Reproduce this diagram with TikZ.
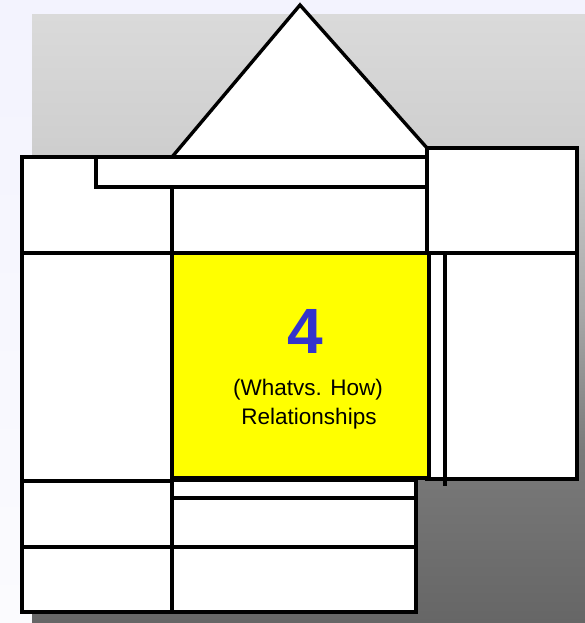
\documentclass[tikz,border=0pt]{standalone}
\usepackage{fontspec}
\setmainfont{Liberation Sans}
\definecolor{bgleft}{RGB}{243,243,254}
\definecolor{bgleftb}{RGB}{251,251,254}
\definecolor{gtop}{RGB}{218,218,218}
\definecolor{gupper}{RGB}{207,207,207}
\definecolor{gmid}{RGB}{168,168,168}
\definecolor{glow}{RGB}{122,122,122}
\definecolor{gbot}{RGB}{102,102,102}
\definecolor{numblue}{RGB}{51,51,204}
\definecolor{hqyellow}{RGB}{255,255,0}
\pgfdeclareverticalshading{grayback}{100bp}{color(0bp)=(gbot); color(25bp)=(gbot); color(39.25bp)=(glow); color(50.7bp)=(gmid); color(64.45bp)=(gupper); color(75bp)=(gtop); color(100bp)=(gtop)}
\tikzset{
  wall/.style={draw=black, line width=3.4pt, line join=miter},
  room/.style={wall, fill=white},
  ln/.style={draw=black, line width=3.4pt},
  txt/.style={anchor=base, inner sep=0pt, font=\fontsize{22.5}{27}\selectfont}
}
\begin{document}
\begin{tikzpicture}[x=1pt, y=-1pt]
\useasboundingbox (0,0) rectangle (585,623);
% backgrounds
\shade[top color=bgleft, bottom color=bgleftb] (0,0) rectangle (585,623);
\shade[shading=grayback] (32,15) rectangle (585,623);
% roof
\path[fill=white] (172,157) -- (300,5) -- (427,148) -- (427,157) -- cycle;
\draw[ln, line join=miter] (172,157) -- (300,5) -- (427,148);
% right wing
\path[room] (427,148) rectangle (577,479);
\draw[ln] (427,253) -- (577,253);
% top section
\path[room] (22,157) rectangle (427,253);
\path[room] (96,157) rectangle (427,187);
\draw[ln] (172,187) -- (172,253);
% middle row
\path[room] (22,253) rectangle (172,481);
\path[wall, fill=hqyellow] (172,253) rectangle (429,478);
% lower section
\path[room] (22,481) rectangle (172,612);
\draw[ln] (22,547) -- (172,547);
\path[room] (172,480) rectangle (416,612);
\draw[ln] (172,498) -- (416,498);
\draw[ln] (172,547) -- (416,547);
% inner line of right wing
\draw[ln] (445,253) -- (445,486);
% texts
\node[anchor=base, inner sep=0pt, text=numblue, font=\fontsize{64}{64}\selectfont\bfseries] (num) at (305,353) {4};
\node[txt] (l1) at (308,395) {(Whatvs. How)};
\node[txt] (l2) at (309,424) {Relationships};
\end{tikzpicture}
\end{document}
